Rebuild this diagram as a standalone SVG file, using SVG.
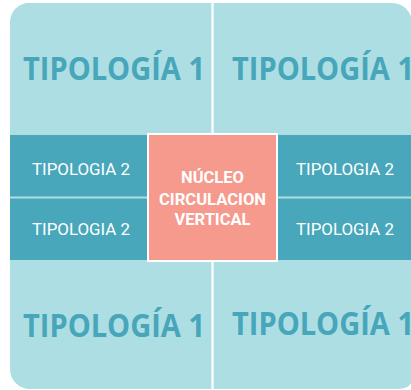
<svg xmlns="http://www.w3.org/2000/svg" width="411" height="390" viewBox="0 0 411 390">
<style>
.bg{fill:#ADDEE3}
.band{fill:#48A7BA}
.core{fill:#F59A8C;stroke:#FFFFFF;stroke-width:2}
.t1{font-family:"Open Sans",Lato,sans-serif;font-weight:700;font-size:33px;fill:#47A6B9}
.t2{font-family:Roboto,"Noto Sans",sans-serif;font-size:16.5px;fill:#FFFFFF;text-anchor:middle}
.tc{font-family:Roboto,"Noto Sans",sans-serif;font-weight:700;font-size:16.5px;fill:#FFFFFF;text-anchor:middle}
.div{stroke:#FFFFFF;stroke-width:2.2}
</style>
<rect width="411" height="390" fill="#FFFFFF"/>
<path class="bg" d="M29,3 H392 A20,20 0 0 1 412,23 V378 Q412,389 398,389 H30 A20,20 0 0 1 10,369 V22 A19,19 0 0 1 29,3 Z"/>
<g id="dividers">
<line class="div" x1="212.5" y1="3" x2="212.5" y2="135"/>
<line class="div" x1="212.5" y1="260" x2="212.5" y2="390"/>
</g>
<g id="tipologia1-tl"><text class="t1" x="23" y="80" textLength="182" lengthAdjust="spacingAndGlyphs">TIPOLOGÍA 1</text></g>
<g id="tipologia1-tr"><text class="t1" x="232" y="80" textLength="182" lengthAdjust="spacingAndGlyphs">TIPOLOGÍA 1</text></g>
<g id="tipologia1-bl"><text class="t1" x="23" y="337" textLength="182" lengthAdjust="spacingAndGlyphs">TIPOLOGÍA 1</text></g>
<g id="tipologia1-br"><text class="t1" x="232" y="335" textLength="182" lengthAdjust="spacingAndGlyphs">TIPOLOGÍA 1</text></g>
<g id="tipologia2-l1"><rect class="band" x="10" y="135" width="137" height="61.5"/><text class="t2" x="81" y="175" textLength="98" lengthAdjust="spacingAndGlyphs">TIPOLOGIA 2</text></g>
<g id="tipologia2-l2"><rect class="band" x="10" y="198.5" width="137" height="61.5"/><text class="t2" x="81" y="235" textLength="98" lengthAdjust="spacingAndGlyphs">TIPOLOGIA 2</text></g>
<g id="tipologia2-r1"><rect class="band" x="278" y="135" width="134" height="61.5"/><text class="t2" x="345" y="175" textLength="98" lengthAdjust="spacingAndGlyphs">TIPOLOGIA 2</text></g>
<g id="tipologia2-r2"><rect class="band" x="278" y="198.5" width="134" height="61.5"/><text class="t2" x="345" y="235" textLength="98" lengthAdjust="spacingAndGlyphs">TIPOLOGIA 2</text></g>
<g id="nucleo">
<rect class="core" x="148" y="134" width="129" height="127"/>
<text class="tc" x="212.5" y="183">NÚCLEO</text>
<text class="tc" x="212.5" y="205" textLength="107" lengthAdjust="spacingAndGlyphs">CIRCULACION</text>
<text class="tc" x="212.5" y="225">VERTICAL</text>
</g>
<g id="connectors"/>
</svg>
